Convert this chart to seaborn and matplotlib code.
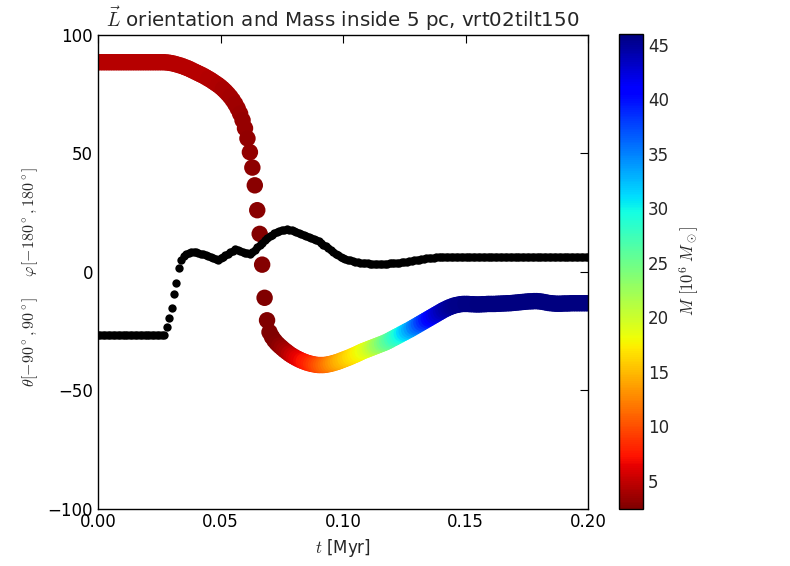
import numpy as np
import pandas as pd
import matplotlib
matplotlib.use("Agg")
import matplotlib.pyplot as plt
import seaborn as sns

# snapshot times [Myr], one every 0.001 Myr
t = np.round(np.arange(0, 201) * 0.001, 3)

# theta of L (coloured by mass)
theta = ([88.5] * 28 +
         [88.4, 88.3, 88.1, 87.9, 87.6, 87.3, 87.0, 86.6, 86.2, 85.8,
          85.3, 84.8, 84.3, 83.8, 83.3, 82.8, 82.2, 81.6, 81.0, 80.3,
          79.6, 78.9, 78.1, 77.2, 76.2, 75.1, 73.9, 72.5, 70.9, 69.0,
          66.8, 64.0, 60.6, 56.3, 50.5, 44.0, 36.5, 26.0, 16.0, 3.0,
          -11.0, -20.5, -25.5] +
         [-27.5, -29.0, -30.2, -31.2, -32.1, -33.0, -33.8, -34.6, -35.3, -35.9,
          -36.5, -37.0, -37.5, -37.9, -38.3, -38.6, -38.9, -39.1, -39.3, -39.4,
          -39.4, -39.4, -39.3, -39.1, -38.9, -38.6, -38.3, -38.0, -37.6] +
         [-37.2, -36.8, -36.4, -36.0, -35.5, -35.1, -34.6, -34.1, -33.6, -33.2,
          -32.8, -32.4, -32.0, -31.6, -31.2, -30.8, -30.4, -30.0, -29.5, -29.0,
          -28.4, -27.9, -27.3, -26.8, -26.2, -25.7, -25.1, -24.6, -24.0, -23.4,
          -22.8, -22.2, -21.6, -21.0, -20.4, -19.8, -19.2, -18.6, -18.0, -17.4,
          -16.8, -16.2, -15.7, -15.2, -14.8, -14.4, -14.1, -13.9, -13.7, -13.6] +
         [-13.6, -13.6, -13.7, -13.7, -13.8, -13.8, -13.8, -13.7, -13.7, -13.6,
          -13.6, -13.6, -13.6, -13.5, -13.5, -13.4, -13.4, -13.3, -13.3, -13.2,
          -13.1, -13.0, -12.9, -12.8, -12.7, -12.6, -12.5, -12.5, -12.4, -12.4,
          -12.5, -12.6, -12.8, -13.0, -13.2, -13.3, -13.4, -13.5, -13.5, -13.5,
          -13.4, -13.4, -13.4, -13.3, -13.3, -13.3, -13.3, -13.3, -13.3, -13.3,
          -13.3])

# phi of L (black dots)
phi = ([-26.7] * 28 +
       [-23.2, -19.6, -15.4, -9.5, -4.6, 1.5, 5.0, 6.5, 7.5, 8.0,
        8.3, 8.5, 8.2, 7.9, 7.6, 7.5, 7.0, 6.6, 6.2, 5.8,
        5.4, 5.0, 5.6, 6.3, 6.9, 7.5, 8.2, 8.9, 9.4, 9.2,
        8.8, 8.4, 8.1, 7.8, 7.5, 8.3, 9.3, 10.3, 11.3, 12.3,
        13.3, 14.3, 15.0, 15.7, 16.4, 16.8, 17.2, 17.5, 17.8, 17.9,
        17.8, 17.6, 17.2, 16.7, 16.2, 15.8, 15.5, 15.2, 14.8, 14.4,
        14.0, 13.6, 13.0, 12.3, 11.5, 10.7, 10.0, 9.2, 8.4, 7.7,
        7.0, 6.4, 5.9, 5.5, 5.1, 4.8, 4.5, 4.3, 4.1, 3.9,
        3.7, 3.6, 3.5, 3.4, 3.3, 3.2, 3.2, 3.2, 3.2, 3.3,
        3.4, 3.5, 3.6, 3.7, 3.8, 3.9, 4.0, 4.2, 4.3, 4.5,
        4.6, 4.8, 5.0, 5.1, 5.3, 5.5, 5.6, 5.8, 5.9, 6.0,
        6.1, 6.2, 6.3] +
       [6.4] * 60)

# mass inside 5 pc [1e6 Msun]
mass = ([4.6] * 41 +
        [4.6, 4.5, 4.5, 4.5, 4.4, 4.4, 4.3, 4.3, 4.2, 4.2,
         4.1, 4.0, 4.0, 3.9, 3.8, 3.7, 3.6, 3.5, 3.4, 3.3,
         3.2, 3.1, 3.0, 2.9, 2.8, 2.7, 2.6, 2.5, 2.45, 2.4,
         2.4, 2.5, 2.7, 3.0, 3.3, 3.7, 4.1, 4.6, 5.1, 5.6,
         6.0, 6.4, 6.8, 7.2, 7.6, 8.0, 8.5, 9.0, 9.5, 10.0,
         10.5, 11.0, 11.5, 12.0, 12.5, 13.0, 13.5, 14.0, 14.5, 15.0,
         15.4, 15.8, 16.2, 16.6, 17.0, 17.4, 17.8, 18.2, 18.6, 19.2,
         19.9, 20.6, 21.4, 22.2, 23.0, 23.8, 24.6, 25.4, 26.2, 27.0,
         27.8, 28.6, 29.4, 30.3, 31.2, 32.1, 33.0, 33.9, 34.8, 35.7,
         36.6, 37.5, 38.4, 39.3, 40.2, 41.0, 41.8, 42.5, 43.1, 43.6,
         44.0, 44.4, 44.7, 45.0, 45.2, 45.4, 45.5] +
        [45.6, 45.6, 45.7, 45.7, 45.8, 45.8, 45.8, 45.9, 45.9, 45.9] +
        [46.0] * 43)

df = pd.DataFrame({"t": t, "theta": theta, "phi": phi, "M": mass})
mmin, mmax = df["M"].min(), df["M"].max()

sns.set_style("white")
plt.rcParams.update({
    "font.family": ["DejaVu Sans"],
    "mathtext.fontset": "cm",
    "xtick.direction": "in",
    "ytick.direction": "in",
    "xtick.top": True,
    "ytick.right": True,
    "axes.edgecolor": "black",
    "axes.linewidth": 1.0,
})

fig = plt.figure(figsize=(7.9, 5.66), dpi=100)
ax = fig.add_axes([98 / 790, 1 - 508.5 / 566, 490 / 790, 473.5 / 566])
cax = fig.add_axes([619 / 790, 1 - 509 / 566, 24 / 790, 475 / 566])

sns.scatterplot(data=df, x="t", y="theta", hue="M", palette="jet_r",
                hue_norm=(mmin, mmax), s=140, linewidth=0, legend=False, ax=ax)
sns.scatterplot(data=df, x="t", y="phi", color="black", s=36, linewidth=0,
                legend=False, ax=ax)

ax.set_xlim(0, 0.2)
ax.set_ylim(-100, 100)
ax.set_xticks([0.0, 0.05, 0.1, 0.15, 0.2])
ax.set_xticklabels(["0.00", "0.05", "0.10", "0.15", "0.20"])
ax.set_yticks([-100, -50, 0, 50, 100])
ax.tick_params(labelsize=12, length=6, width=0.8, colors="black")
ax.set_title(r"$\vec{L}$ orientation and Mass inside 5 pc, vrt02tilt150",
             fontsize=14.3, pad=6)
ax.set_xlabel(r"$t$ [Myr]", fontsize=12)
ax.set_ylabel(r"$\theta[-90^\circ,90^\circ]$    $\varphi[-180^\circ,180^\circ]$",
              fontsize=11.5)
ax.yaxis.set_label_coords(-0.118, 0.49)

sm = plt.cm.ScalarMappable(cmap="jet_r", norm=plt.Normalize(mmin, mmax))
cb = fig.colorbar(sm, cax=cax)
cb.set_ticks([5, 10, 15, 20, 25, 30, 35, 40, 45])
cb.ax.tick_params(labelsize=12, direction="in", length=5)
cb.outline.set_linewidth(1.0)
cb.set_label(r"$M\ [10^6\ M_\odot]$", fontsize=12, labelpad=6)

fig.savefig("out.png", dpi=100)
